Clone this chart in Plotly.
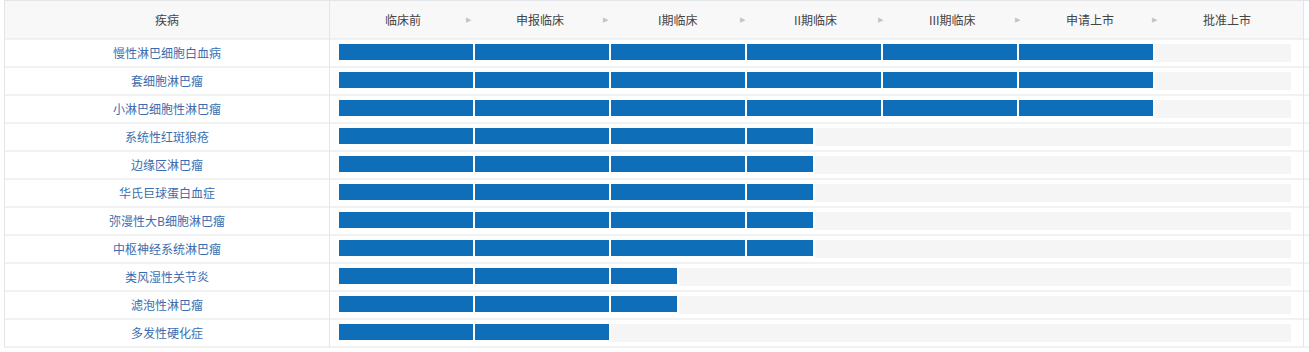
import math
import plotly.graph_objects as go

# ---------------- data ----------------
header_first = "疾病"
stages = ["临床前", "申报临床", "I期临床", "II期临床", "III期临床", "申请上市", "批准上市"]
diseases = [
    "慢性淋巴细胞白血病",
    "套细胞淋巴瘤",
    "小淋巴细胞性淋巴瘤",
    "系统性红斑狼疮",
    "边缘区淋巴瘤",
    "华氏巨球蛋白血症",
    "弥漫性大B细胞淋巴瘤",
    "中枢神经系统淋巴瘤",
    "类风湿性关节炎",
    "滤泡性淋巴瘤",
    "多发性硬化症",
]
# progress measured in stage columns reached (half = in progress)
progress = [6, 6, 6, 3.5, 3.5, 3.5, 3.5, 3.5, 2.5, 2.5, 2]

# ---------------- layout constants ----------------
W, H = 1309, 352
BLUE = "#0e6eb8"
TRACK = "#f5f5f5"
LINE = "#e3e5e8"
LABEL = "#3a6db0"
HEAD = "#444444"
FONT = "Noto Sans CJK SC"

COL_PX = 136.0          # pixel width of one stage column
GAP = 2.0 / COL_PX      # white gap between segments (axis units)
X0_PX, X1_PX = 339, 339 + COL_PX * len(stages)
HEADER_PX = 39
ROW_PX = 28
ROW0_CENTER = HEADER_PX + ROW_PX / 2

def px_x(p):
    return p / W

def px_y(p):
    return 1 - p / H

# ---------------- build bar segments from data ----------------
seg_y, seg_base, seg_len = [], [], []
trk_y, trk_base, trk_len = [], [], []
n_st = len(stages)
for name, p in zip(diseases, progress):
    for k in range(math.ceil(p)):
        length = min(1.0, p - k)
        seg_y.append(name)
        seg_base.append(k)
        seg_len.append(length - GAP)
    if p < n_st:
        trk_y.append(name)
        trk_base.append(p)
        trk_len.append(n_st - p + GAP)

fig = go.Figure()
fig.add_trace(go.Bar(
    y=trk_y, x=trk_len, base=trk_base, orientation="h",
    marker=dict(color=TRACK, line=dict(width=0)),
    width=18 / ROW_PX, offset=-9 / ROW_PX, hoverinfo="skip", showlegend=False,
))
fig.add_trace(go.Bar(
    y=seg_y, x=seg_len, base=seg_base, orientation="h",
    marker=dict(color=BLUE, line=dict(width=0)),
    width=16 / ROW_PX, offset=-9 / ROW_PX, hoverinfo="skip", showlegend=False,
))

# y range so that each row is ROW_PX pixels and header is HEADER_PX
y_top = (0 - ROW0_CENTER) / ROW_PX
y_bot = (H - ROW0_CENTER) / ROW_PX

shapes = []
# header background
shapes.append(dict(type="rect", xref="paper", yref="paper",
                   x0=px_x(4), x1=px_x(1303), y0=px_y(HEADER_PX), y1=1,
                   fillcolor="#f8f8f8", line=dict(width=0), layer="below"))
# top border
shapes.append(dict(type="line", xref="paper", yref="paper",
                   x0=px_x(4), x1=1, y0=px_y(0.5), y1=px_y(0.5),
                   line=dict(color=LINE, width=1)))
# row boundaries
for i in range(-1, len(diseases)):
    shapes.append(dict(type="line", xref="paper", yref="y",
                       x0=px_x(4), x1=1, y0=i + 0.5, y1=i + 0.5,
                       line=dict(color=LINE, width=1)))
# vertical borders
for xp in (4.5, 329.5, 1303.5):
    shapes.append(dict(type="line", xref="paper", yref="paper",
                       x0=px_x(xp), x1=px_x(xp), y0=px_y(HEADER_PX + ROW_PX * len(diseases)),
                       y1=1, line=dict(color=LINE, width=1)))

annotations = []
# header text
annotations.append(dict(text=header_first, xref="paper", yref="paper",
                        x=px_x(166.5), y=px_y(20), showarrow=False,
                        xanchor="center", yanchor="middle",
                        font=dict(family=FONT, size=12, color=HEAD)))
HEAD_X0, HEAD_STEP = 403, 137.35
for k, s in enumerate(stages):
    annotations.append(dict(text=s, xref="paper", yref="paper",
                            x=px_x(HEAD_X0 + HEAD_STEP * k), y=px_y(20), showarrow=False,
                            xanchor="center", yanchor="middle",
                            font=dict(family=FONT, size=12, color=HEAD)))
    if k < len(stages) - 1:
        annotations.append(dict(text="▶", xref="paper", yref="paper",
                                x=px_x(468.5 + HEAD_STEP * k), y=px_y(20), showarrow=False,
                                xanchor="center", yanchor="middle",
                                font=dict(family="DejaVu Sans", size=7, color="#c4c4c4")))
# row labels
for name in diseases:
    annotations.append(dict(text=name, xref="paper", yref="y",
                            x=px_x(166.5), y=name, showarrow=False,
                            xanchor="center", yanchor="middle", yshift=1,
                            font=dict(family=FONT, size=12, color=LABEL)))

fig.update_layout(
    width=W, height=H,
    margin=dict(l=0, r=0, t=0, b=0),
    paper_bgcolor="white", plot_bgcolor="rgba(0,0,0,0)",
    barmode="overlay",
    xaxis=dict(range=[0, n_st], domain=[px_x(X0_PX), px_x(X1_PX)],
               visible=False, fixedrange=True),
    yaxis=dict(type="category", categoryorder="array", categoryarray=diseases,
               range=[y_bot, y_top], domain=[0, 1], visible=False, fixedrange=True),
    shapes=shapes, annotations=annotations,
)

fig.write_html("out.html", config={"displayModeBar": False})
